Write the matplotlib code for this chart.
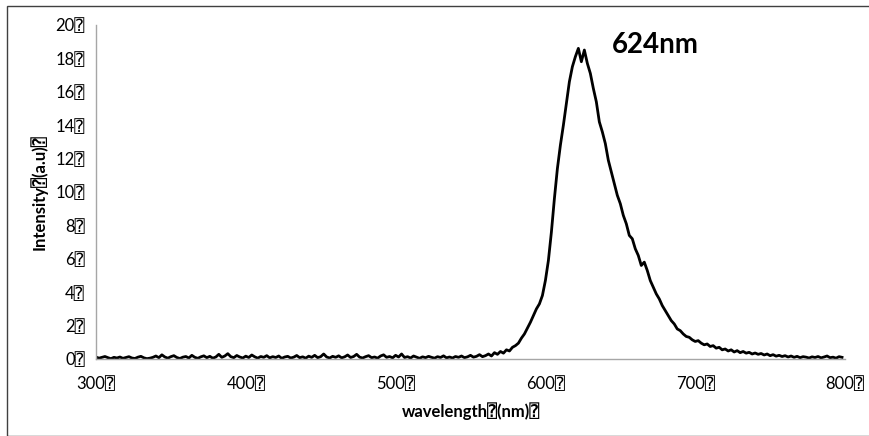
import numpy as np
import matplotlib
matplotlib.use("Agg")
import matplotlib.pyplot as plt
from matplotlib.patches import Rectangle

plt.rcParams['font.family'] = ['Lato', 'DejaVu Sans', 'DejaVu Sans Mono']

BOX = '\u2370'

# --- Spectrum data (2 nm steps, 300-798 nm) ---
wavelength = np.arange(300, 800, 2)
intensity = [
    0.12, 0.05, 0.10, 0.15, 0.08, 0.02, 0.10, 0.06, 0.12, 0.04,
    0.09, 0.14, 0.06, 0.03, 0.11, 0.16, 0.07, 0.02, 0.05, 0.10,
    0.18, 0.08, 0.25, 0.12, 0.05, 0.14, 0.20, 0.09, 0.03, 0.11,
    0.15, 0.06, 0.22, 0.10, 0.04, 0.13, 0.19, 0.08, 0.16, 0.05,
    0.12, 0.28, 0.10, 0.18, 0.32, 0.14, 0.08, 0.21, 0.12, 0.06,
    0.17, 0.09, 0.24, 0.13, 0.05, 0.15, 0.10, 0.20, 0.07, 0.14,
    0.09, 0.18, 0.04, 0.12, 0.16, 0.06, 0.11, 0.21, 0.08, 0.13,
    0.05, 0.17, 0.10, 0.22, 0.08, 0.14, 0.30, 0.12, 0.06, 0.16,
    0.10, 0.19, 0.07, 0.13, 0.24, 0.09, 0.15, 0.28, 0.11, 0.06,
    0.14, 0.20, 0.08, 0.12, 0.05, 0.18, 0.25, 0.10, 0.15, 0.07,
    0.22, 0.12, 0.30, 0.09, 0.14, 0.06, 0.18, 0.11, 0.04, 0.13,
    0.08, 0.16, 0.10, 0.05, 0.14, 0.09, 0.19, 0.07, 0.12, 0.06,
    0.15, 0.10, 0.18, 0.08, 0.13, 0.22, 0.11, 0.16, 0.26, 0.14,
    0.20, 0.30, 0.18, 0.38, 0.28, 0.45, 0.35, 0.55, 0.48, 0.70,
    0.80, 0.95, 1.25, 1.50, 1.85, 2.20, 2.60, 3.00, 3.30, 3.80,
    4.70, 5.90, 7.60, 9.60, 11.4, 12.8, 14.0, 15.3, 16.6, 17.5,
    18.1, 18.6, 17.8, 18.5, 17.7, 17.1, 16.2, 15.4, 14.2, 13.6,
    12.9, 11.9, 11.2, 10.5, 9.80, 9.30, 8.60, 8.10, 7.40, 7.20,
    6.60, 6.20, 5.60, 5.80, 5.30, 4.70, 4.30, 3.90, 3.60, 3.20,
    2.90, 2.60, 2.30, 2.10, 1.80, 1.70, 1.50, 1.35, 1.30, 1.15,
    1.05, 1.10, 0.95, 0.85, 0.90, 0.75, 0.80, 0.65, 0.70, 0.55,
    0.60, 0.48, 0.55, 0.42, 0.50, 0.38, 0.45, 0.35, 0.40, 0.30,
    0.36, 0.28, 0.33, 0.24, 0.30, 0.20, 0.26, 0.17, 0.22, 0.15,
    0.20, 0.12, 0.18, 0.10, 0.16, 0.08, 0.14, 0.11, 0.06, 0.13,
    0.09, 0.15, 0.07, 0.12, 0.18, 0.08, 0.11, 0.05, 0.14, 0.10,
]

x_ticks = [300, 400, 500, 600, 700, 800]
y_ticks = [0, 2, 4, 6, 8, 10, 12, 14, 16, 18, 20]
peak_label = "624nm"

fig = plt.figure(figsize=(8.7, 4.36), dpi=100)
ax = fig.add_axes([0.1103, 0.1766, 0.861, 0.7661])

ax.plot(wavelength, intensity, color='black', lw=2.0)

ax.set_xlim(300, 800)
ax.set_ylim(0, 20)
ax.set_xticks(x_ticks)
ax.set_yticks(y_ticks)
ax.set_xticklabels([f"{v}{BOX}" for v in x_ticks], fontsize=12)
ax.set_yticklabels([f"{v}{BOX}" for v in y_ticks], fontsize=12)
ax.tick_params(axis='x', length=0, pad=12)
ax.tick_params(axis='y', length=0, pad=8)

for s in ('top', 'right'):
    ax.spines[s].set_visible(False)
for s in ('left', 'bottom'):
    ax.spines[s].set_color('#a6a6a6')
    ax.spines[s].set_linewidth(1.0)

ax.set_xlabel(f"wavelength{BOX}(nm){BOX}", fontsize=12, fontweight='bold', labelpad=8)
ax.set_ylabel(f"Intensity{BOX}(a.u){BOX}", fontsize=12, fontweight='bold', labelpad=6)

ax.text(644.5, 18.8, peak_label, fontsize=20, fontweight='bold', va='center', ha='left')

# outer chart border
fig.patches.append(Rectangle((7 / 870, 0), 1.0, 1 - 6 / 436, transform=fig.transFigure,
                             fill=False, edgecolor='#404040', lw=1.0))

fig.savefig("out.png", dpi=100)
